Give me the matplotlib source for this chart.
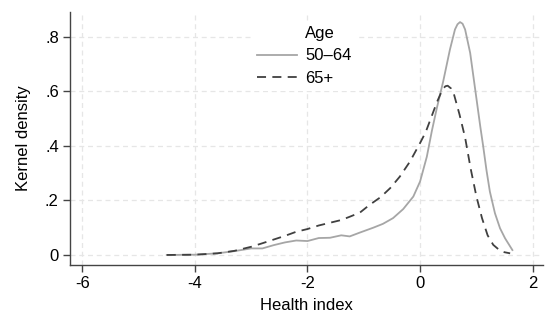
import numpy as np
from matplotlib import pyplot as plt

plt.rcParams['font.family'] = ['Liberation Sans', 'DejaVu Sans']
plt.rcParams['axes.unicode_minus'] = False

#kernel density of the health index, ages 50-64
x_young = [-4.5, -4.0, -3.6, -3.3, -3.0, -2.8, -2.6, -2.4, -2.2, -2.0, -1.8, -1.6, -1.4, -1.25, -1.07,
           -0.83, -0.66, -0.48, -0.3, -0.12, 0.0, 0.12, 0.21, 0.3, 0.41, 0.53, 0.62, 0.665, 0.71, 0.755,
           0.8, 0.89, 0.98, 1.07, 1.12, 1.18, 1.24, 1.33, 1.42, 1.51, 1.64]
y_young = [0.0, 0.001, 0.006, 0.014, 0.024, 0.024, 0.036, 0.046, 0.053, 0.051, 0.062, 0.063, 0.072, 0.068, 0.082,
           0.10, 0.114, 0.135, 0.168, 0.214, 0.269, 0.36, 0.455, 0.54, 0.635, 0.752, 0.826, 0.845, 0.853, 0.847,
           0.826, 0.74, 0.605, 0.47, 0.40, 0.31, 0.232, 0.153, 0.098, 0.061, 0.018]

#kernel density of the health index, ages 65+
x_old = [-4.5, -4.0, -3.6, -3.3, -3.0, -2.8, -2.4, -2.2, -2.0, -1.8, -1.4, -1.25, -1.07, -0.9, -0.7,
         -0.53, -0.36, -0.18, 0.0, 0.1, 0.2, 0.3, 0.4, 0.45, 0.49, 0.55, 0.6, 0.7, 0.8, 0.9,
         1.0, 1.1, 1.2, 1.3, 1.42, 1.5, 1.6]
y_old = [0.0, 0.001, 0.006, 0.015, 0.03, 0.043, 0.07, 0.085, 0.095, 0.108, 0.128, 0.14, 0.155, 0.183, 0.212,
         0.245, 0.287, 0.342, 0.41, 0.45, 0.505, 0.56, 0.607, 0.618, 0.62, 0.61, 0.59, 0.515, 0.43, 0.315,
         0.215, 0.135, 0.072, 0.037, 0.016, 0.01, 0.006]

x_ticks = [-6, -4, -2, 0, 2]
y_ticks = [0, 0.2, 0.4, 0.6, 0.8]
y_tick_labels = ['0', '.2', '.4', '.6', '.8']

fig = plt.figure(figsize=(5.55, 3.33), dpi=100)
ax = fig.add_axes([0.126, 0.204, 0.852, 0.76])

#empty entry so "Age" lines up with the labels
ax.plot([], [], color='none', label='Age')
ax.plot(x_young, y_young, color='#a6a6a6', lw=1.3, label='50\u201364')
ax.plot(x_old, y_old, color='#404040', lw=1.3, dashes=(5, 3.5), label='65+')

ax.set_xlim(-6.22, 2.18)
ax.set_ylim(-0.037, 0.89)
ax.set_xticks(x_ticks)
ax.set_yticks(y_ticks)
ax.set_yticklabels(y_tick_labels)
ax.tick_params(labelsize=12, length=5, width=1, color='#444444', direction='out', pad=3)

ax.grid(True, color='#e6e6e6', lw=0.9, dashes=(4, 3))
ax.set_axisbelow(True)
for s in ['top', 'right']:
    ax.spines[s].set_visible(False)
for s in ['left', 'bottom']:
    ax.spines[s].set_color('#444444')
    ax.spines[s].set_linewidth(1)

ax.set_xlabel('Health index', fontsize=12, labelpad=5)
ax.set_ylabel('Kernel density', fontsize=12, labelpad=10)

leg = ax.legend(loc='upper left', bbox_to_anchor=(0.385, 0.965), fontsize=12, frameon=True,
                facecolor='white', edgecolor='none', framealpha=1, fancybox=False,
                borderpad=0.3, borderaxespad=0, handlelength=2.4, handletextpad=0.5, labelspacing=0.45)

fig.savefig('out.png', dpi=100)
